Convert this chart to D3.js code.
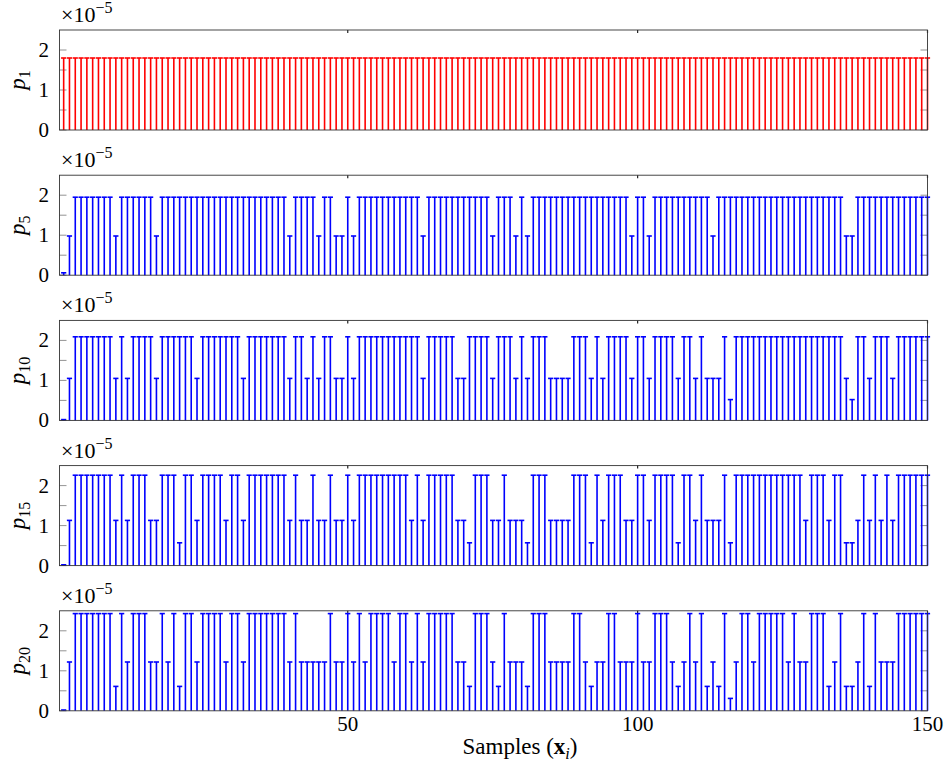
<!DOCTYPE html>
<html><head><meta charset="utf-8">
<script src="https://cdn.jsdelivr.net/npm/d3@7/dist/d3.min.js"></script>
<style>body{margin:0;background:#fff}svg{display:block}</style>
</head><body><svg id="c" width="949" height="762"></svg>
<script>
const samples = d3.range(1, 151);
const p1 = [
1.8,1.8,1.8,1.8,1.8,1.8,1.8,1.8,1.8,1.8, 1.8,1.8,1.8,1.8,1.8,1.8,1.8,1.8,1.8,1.8,
1.8,1.8,1.8,1.8,1.8,1.8,1.8,1.8,1.8,1.8, 1.8,1.8,1.8,1.8,1.8,1.8,1.8,1.8,1.8,1.8,
1.8,1.8,1.8,1.8,1.8,1.8,1.8,1.8,1.8,1.8, 1.8,1.8,1.8,1.8,1.8,1.8,1.8,1.8,1.8,1.8,
1.8,1.8,1.8,1.8,1.8,1.8,1.8,1.8,1.8,1.8, 1.8,1.8,1.8,1.8,1.8,1.8,1.8,1.8,1.8,1.8,
1.8,1.8,1.8,1.8,1.8,1.8,1.8,1.8,1.8,1.8, 1.8,1.8,1.8,1.8,1.8,1.8,1.8,1.8,1.8,1.8,
1.8,1.8,1.8,1.8,1.8,1.8,1.8,1.8,1.8,1.8, 1.8,1.8,1.8,1.8,1.8,1.8,1.8,1.8,1.8,1.8,
1.8,1.8,1.8,1.8,1.8,1.8,1.8,1.8,1.8,1.8, 1.8,1.8,1.8,1.8,1.8,1.8,1.8,1.8,1.8,1.8,
1.8,1.8,1.8,1.8,1.8,1.8,1.8,1.8,1.8,1.8];
const p5 = [
0.06,0.98,1.95,1.95,1.95,1.95,1.95,1.95,1.95,0.98,
1.95,1.95,1.95,1.95,1.95,1.95,0.98,1.95,1.95,1.95,
1.95,1.95,1.95,1.95,1.95,1.95,1.95,1.95,1.95,1.95,
1.95,1.95,1.95,1.95,1.95,1.95,1.95,1.95,1.95,0.98,
1.95,1.95,1.95,1.95,0.98,1.95,1.95,0.98,0.98,1.95,
0.98,1.95,1.95,1.95,1.95,1.95,1.95,1.95,1.95,1.95,
1.95,1.95,0.98,1.95,1.95,1.95,1.95,1.95,1.95,1.95,
1.95,1.95,1.95,1.95,0.98,1.95,1.95,1.95,0.98,1.95,
0.98,1.95,1.95,1.95,1.95,1.95,1.95,1.95,1.95,1.95,
1.95,1.95,1.95,1.95,1.95,1.95,1.95,1.95,0.98,1.95,
1.95,0.98,1.95,1.95,1.95,1.95,1.95,1.95,1.95,1.95,
1.95,1.95,0.98,1.95,1.95,1.95,1.95,1.95,1.95,1.95,
1.95,1.95,1.95,1.95,1.95,1.95,1.95,1.95,1.95,1.95,
1.95,1.95,1.95,1.95,1.95,0.98,0.98,1.95,1.95,1.95,
1.95,1.95,1.95,1.95,1.95,1.95,1.95,1.95,1.95,1.95];
const p10 = [
0.02,1.05,2.09,2.09,2.09,2.09,2.09,2.09,2.09,1.05,
2.09,1.05,2.09,2.09,2.09,2.09,1.05,2.09,2.09,2.09,
2.09,2.09,2.09,1.05,2.09,2.09,2.09,2.09,2.09,2.09,
2.09,1.05,2.09,2.09,2.09,2.09,2.09,2.09,2.09,1.05,
2.09,2.09,1.05,2.09,1.05,2.09,2.09,1.05,1.05,2.09,
1.05,2.09,2.09,2.09,2.09,2.09,2.09,2.09,2.09,2.09,
2.09,2.09,1.05,2.09,2.09,2.09,2.09,2.09,1.05,1.05,
2.09,2.09,2.09,2.09,1.05,2.09,2.09,2.09,1.05,2.09,
1.05,2.09,2.09,2.09,1.05,1.05,1.05,1.05,2.09,2.09,
2.09,1.05,2.09,1.05,2.09,2.09,2.09,2.09,1.05,2.09,
2.09,1.05,2.09,2.09,2.09,2.09,1.05,2.09,2.09,1.05,
2.09,1.05,1.05,1.05,2.09,0.52,2.09,2.09,2.09,2.09,
2.09,2.09,2.09,2.09,2.09,2.09,2.09,2.09,2.09,2.09,
2.09,2.09,2.09,2.09,2.09,1.05,0.52,2.09,2.09,1.05,
2.09,2.09,2.09,1.05,2.09,2.09,2.09,2.09,2.09,2.09];
const p15 = [
0.02,1.13,2.26,2.26,2.26,2.26,2.26,2.26,2.26,1.13,
2.26,1.13,2.26,2.26,2.26,1.13,1.13,2.26,2.26,2.26,
0.57,2.26,2.26,1.13,2.26,2.26,2.26,2.26,1.13,2.26,
2.26,1.13,2.26,2.26,2.26,2.26,2.26,2.26,2.26,1.13,
2.26,1.13,1.13,2.26,1.13,1.13,2.26,1.13,1.13,2.26,
1.13,2.26,2.26,2.26,2.26,2.26,2.26,2.26,2.26,2.26,
1.13,2.26,1.13,2.26,2.26,2.26,2.26,2.26,1.13,1.13,
0.57,2.26,2.26,2.26,1.13,1.13,2.26,1.13,1.13,1.13,
0.57,2.26,2.26,2.26,1.13,1.13,1.13,1.13,2.26,2.26,
2.26,0.57,2.26,1.13,2.26,2.26,2.26,1.13,1.13,2.26,
2.26,1.13,2.26,2.26,2.26,2.26,0.57,2.26,2.26,1.13,
2.26,1.13,1.13,1.13,2.26,0.57,2.26,2.26,2.26,2.26,
2.26,2.26,2.26,2.26,2.26,2.26,2.26,2.26,1.13,2.26,
2.26,2.26,1.13,2.26,2.26,0.57,0.57,1.13,2.26,1.13,
2.26,1.13,2.26,1.13,2.26,2.26,2.26,2.26,2.26,2.26];
const p20 = [
0.02,1.22,2.43,2.43,2.43,2.43,2.43,2.43,2.43,0.61,
2.43,1.22,2.43,2.43,2.43,1.22,1.22,2.43,1.22,2.43,
0.61,2.43,2.43,1.22,2.43,2.43,2.43,2.43,1.22,2.43,
2.43,1.22,2.43,2.43,2.43,2.43,2.43,2.43,2.43,1.22,
2.43,1.22,1.22,1.22,1.22,1.22,2.43,1.22,1.22,2.43,
1.22,2.43,1.22,2.43,2.43,2.43,2.43,1.22,2.43,2.43,
1.22,2.43,1.22,2.43,2.43,2.43,2.43,2.43,1.22,1.22,
0.61,2.43,2.43,2.43,1.22,0.61,2.43,1.22,1.22,1.22,
0.61,2.43,2.43,2.43,1.22,1.22,1.22,1.22,2.43,2.43,
1.22,0.61,1.22,1.22,2.43,2.43,1.22,1.22,1.22,2.43,
1.22,1.22,2.43,2.43,2.43,1.22,0.61,1.22,2.43,1.22,
2.43,0.61,1.22,0.61,2.43,0.31,1.22,2.43,2.43,1.22,
2.43,2.43,2.43,2.43,2.43,1.22,2.43,1.22,1.22,2.43,
2.43,2.43,0.61,1.22,2.43,0.61,0.61,1.22,2.43,0.61,
2.43,1.22,1.22,1.22,2.43,2.43,2.43,2.43,2.43,2.43];
const seriesNames = ["1", "5", "10", "15", "20"];
const seriesColors = ["#ff0000", "#0000ff", "#0000ff", "#0000ff", "#0000ff"];
const seriesValues = [p1, p5, p10, p15, p20];
const yTicks = [0, 0.5, 1, 1.5, 2];
const yTickLabels = {0: "0", 1: "1", 2: "2"};
const xTicks = [50, 100, 150];

const svg = d3.select("#c");
const FONT = "'Liberation Serif', 'Times New Roman', serif";
const left = 59.5, right = 927.5, ph = 100, gap = 145.2, top0 = 30;
const x = d3.scaleLinear().domain([0.28, 150]).range([left, right]);
const capW = 5.2;

seriesValues.forEach((vals, k) => {
  const top = top0 + k * gap;
  const y = d3.scaleLinear().domain([0, 2.5]).range([top + ph, top]);
  const g = svg.append("g");
  const col = seriesColors[k];
  yTicks.forEach(t => {
    g.append("line").attr("x1", left).attr("x2", left + 7).attr("y1", y(t)).attr("y2", y(t))
      .attr("stroke", "#777").attr("stroke-width", 0.8);
    g.append("line").attr("x1", right - 7).attr("x2", right).attr("y1", y(t)).attr("y2", y(t))
      .attr("stroke", "#777").attr("stroke-width", 0.8);
  });
  xTicks.forEach(t => {
    g.append("line").attr("x1", x(t)).attr("x2", x(t)).attr("y1", top).attr("y2", top + 3)
      .attr("stroke", "#222").attr("stroke-width", 1.2);
  });
  const stems = g.append("g");
  stems.selectAll("line.stem").data(samples).join("line").attr("class", "stem")
    .attr("x1", d => x(d)).attr("x2", d => x(d))
    .attr("y1", y(0)).attr("y2", (d, i) => y(vals[i]))
    .attr("stroke", col).attr("stroke-width", 1.6);
  stems.selectAll("line.cap").data(samples).join("line").attr("class", "cap")
    .attr("x1", d => x(d) - capW / 2).attr("x2", d => x(d) + capW / 2)
    .attr("y1", (d, i) => y(vals[i])).attr("y2", (d, i) => y(vals[i]))
    .attr("stroke", col).attr("stroke-width", 1.6);
  g.append("rect").attr("x", left).attr("y", top).attr("width", right - left).attr("height", ph)
    .attr("fill", "none").attr("stroke", "#333").attr("stroke-width", 0.9);
  yTicks.filter(t => yTickLabels[t] !== undefined).forEach(t => {
    g.append("text").attr("x", 49).attr("y", y(t) + 7).attr("text-anchor", "end")
      .attr("font-family", FONT).attr("font-size", 21).text(yTickLabels[t]);
  });
  const m = g.append("text").attr("x", 61).attr("y", top - 8).attr("font-family", FONT).attr("font-size", 22);
  m.append("tspan").text("×10");
  m.append("tspan").attr("dy", -9).attr("font-size", 16).text("−5");
  const yl = g.append("text").attr("transform", `translate(25,${top + ph / 2}) rotate(-90)`)
    .attr("text-anchor", "middle").attr("font-family", FONT).attr("font-size", 23);
  yl.append("tspan").attr("font-style", "italic").text("p");
  yl.append("tspan").attr("dy", 5).attr("font-size", 16).text(seriesNames[k]);
  if (k === seriesValues.length - 1) {
    xTicks.forEach(t => {
      g.append("text").attr("x", x(t)).attr("y", top + ph + 20).attr("text-anchor", "middle")
        .attr("font-family", FONT).attr("font-size", 21).text(t);
    });
    const xl = g.append("text").attr("x", 520).attr("y", top + ph + 43).attr("text-anchor", "middle")
      .attr("font-family", FONT).attr("font-size", 23);
    xl.append("tspan").text("Samples (");
    xl.append("tspan").attr("font-weight", "bold").text("x");
    xl.append("tspan").attr("font-style", "italic").attr("font-size", 16).attr("dy", 5).text("i");
    xl.append("tspan").attr("dy", -5).text(")");
  }
});
</script></body></html>
